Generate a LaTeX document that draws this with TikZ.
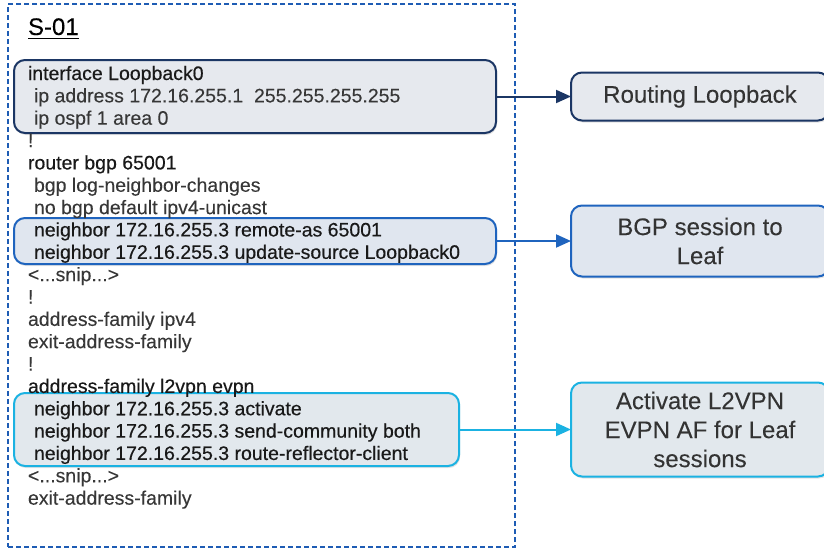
\documentclass[tikz,border=0pt]{standalone}
\usepackage{fontspec}
\setmainfont{Liberation Sans}
\newfontfamily\medfont[FakeBold=0.4]{Liberation Sans}
\newfontfamily\regfont[FakeBold=0.1]{Liberation Sans}
\usepackage{xcolor}
\usetikzlibrary{arrows.meta}
\usetikzlibrary{shadows}
\definecolor{navyline}{RGB}{27,54,100}
\definecolor{blueline}{RGB}{31,100,190}
\definecolor{cyanline}{RGB}{27,178,226}
\definecolor{dashblue}{RGB}{30,92,180}
\definecolor{greyfill}{RGB}{230,233,238}
\definecolor{bluefill}{RGB}{224,230,239}
\definecolor{cyanfill}{RGB}{226,232,237}
\definecolor{codegray}{RGB}{55,55,55}
\newcommand{\snipline}{<...snip...>}

\begin{document}
\begin{tikzpicture}[x=1pt,y=-1pt,
	every node/.style={inner sep=0pt,outer sep=0pt},
	code/.style={anchor=base west,font=\fontsize{19.5}{22}\regfont,text=codegray},
	codemed/.style={anchor=base west,font=\fontsize{19.5}{22}\medfont,text=black!90},
	hibox/.style={draw,line width=2pt,rounded corners=11pt,anchor=north west,
		drop shadow={opacity=0.22,shadow xshift=1pt,shadow yshift=-2pt}},
	notebox/.style={hibox,anchor=west,minimum width=258pt,align=center,
		font=\fontsize{24}{29}\regfont,text=black!80},
	link/.style={line width=2pt,-{Triangle[length=15pt,width=13pt]}}]
	\useasboundingbox (0,0) rectangle (824,549);

	\node[draw=dashblue,line width=2pt,dash pattern=on 5pt off 3pt,anchor=north west,
		minimum width=507pt,minimum height=543pt] (frame) at (8,4) {};
	\node[anchor=base west,font=\fontsize{24}{28}\regfont] (title) at (28,35) {S-01};
	\draw[line width=1.3pt] ([yshift=-3.5pt]title.base west) -- ([yshift=-3.5pt]title.base east);

	\node[hibox,draw=navyline,fill=greyfill,minimum width=482pt,minimum height=73pt] (lobox) at (14,60) {};
	\node[hibox,draw=blueline,fill=bluefill,minimum width=482pt,minimum height=46pt] (nbbox) at (14,218) {};
	\node[hibox,draw=cyanline,fill=cyanfill,minimum width=445pt,minimum height=73pt] (afbox) at (14,393) {};

	\foreach \s/\x/\t [count=\i from 0] in {
		codemed/28/interface Loopback0,
		code/34/ip address 172.16.255.1\ \ 255.255.255.255,
		code/34/ip ospf 1 area 0,
		code/28/!,
		codemed/28/router bgp 65001,
		code/34/bgp log-neighbor-changes,
		code/34/no bgp default ipv4-unicast,
		codemed/34/neighbor 172.16.255.3 remote-as 65001,
		codemed/34/neighbor 172.16.255.3 update-source Loopback0,
		code/28/\snipline,
		code/28/!,
		code/28/address-family ipv4,
		code/28/exit-address-family,
		code/28/!,
		codemed/28/address-family l2vpn evpn,
		codemed/34/neighbor 172.16.255.3 activate,
		codemed/34/neighbor 172.16.255.3 send-community both,
		codemed/34/neighbor 172.16.255.3 route-reflector-client,
		code/28/\snipline,
		code/28/exit-address-family}
		\node[\s] (line\i) at (\x,80+\i*22.35) {\t};

	\node[notebox,draw=navyline,fill=greyfill,minimum height=48pt] (rl) at (571,96.5) {Routing Loopback};
	\node[notebox,draw=blueline,fill=bluefill,minimum height=71pt] (bgp) at (571,241) {BGP session to\\Leaf};
	\node[notebox,draw=cyanline,fill=cyanfill,minimum height=94pt] (act) at (571,429.5) {Activate L2VPN\\EVPN AF for Leaf\\sessions};

	\draw[link,navyline] (lobox.east) -- (rl.west);
	\draw[link,blueline] (nbbox.east) -- (bgp.west);
	\draw[link,cyanline] (afbox.east) -- (act.west);
\end{tikzpicture}
\end{document}
